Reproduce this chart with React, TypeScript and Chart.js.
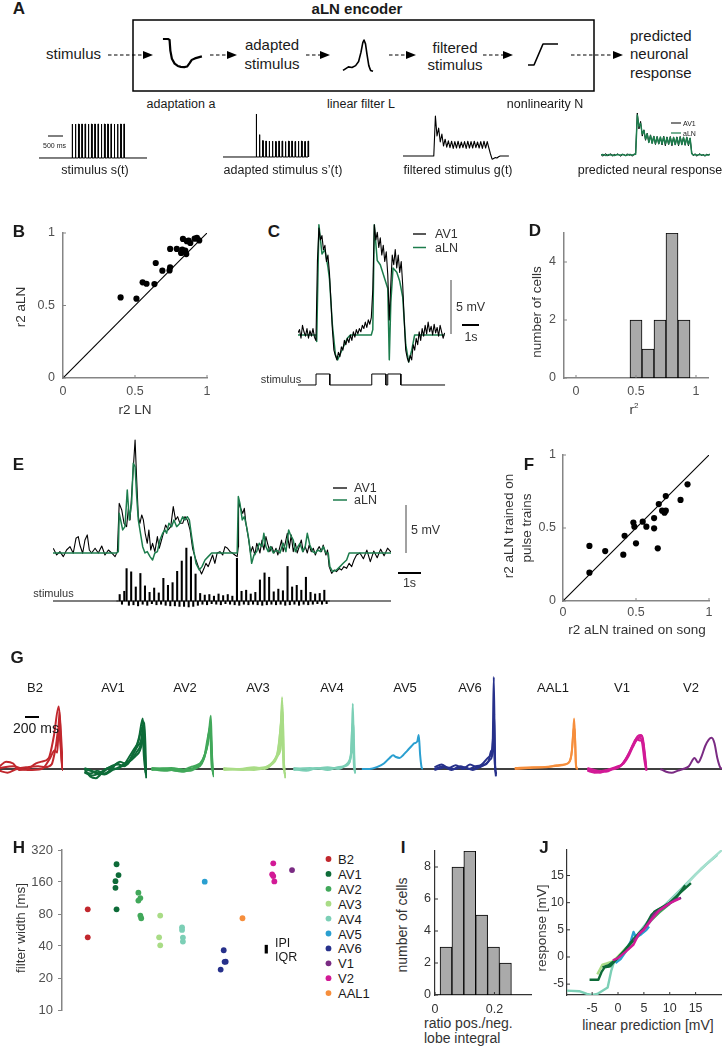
import React, { useEffect, useRef } from 'react';
import { Chart, registerables } from 'chart.js';

Chart.register(...registerables);
const FONT = '"Liberation Sans", Arial, Helvetica, sans-serif';
Chart.defaults.font.family = FONT;

// ===================== DATA =====================
// ---- Panel A (schematic traces) ----
const A_PULSE_ONSETS = [1100, 1208, 1316, 1424, 1532, 1640, 1748, 1856, 1964, 2072, 2180, 2288, 2396, 2504, 2612, 2720, 2828]; // ms
const A_PULSE_DUR = 20; // ms
const A_STIM_END = 3600; // ms
const A_ADAPTED_AMPS = [1.0, 0.52, 0.38, 0.37, 0.37, 0.37, 0.36, 0.37, 0.37, 0.36, 0.37, 0.37, 0.36, 0.37, 0.37, 0.36, 0.37];
const A_ADAPTED_END = 2850;
const A_FILTERED = [[0, 0], [1026, 0], [1080, 1.0], [1134, 0.5], [1188, 0.7], [1242, 0.35], [1296, 0.55], [1350, 0.25], [1404, 0.42], [1458, 0.22], [1512, 0.38], [1566, 0.21], [1620, 0.37], [1674, 0.19], [1728, 0.36], [1782, 0.2], [1836, 0.37], [1890, 0.2], [1944, 0.35], [1998, 0.21], [2052, 0.36], [2106, 0.19], [2160, 0.37], [2214, 0.2], [2268, 0.36], [2322, 0.2], [2376, 0.37], [2430, 0.21], [2484, 0.35], [2538, 0.2], [2592, 0.36], [2646, 0.19], [2700, 0.37], [2754, 0.2], [2808, 0.36], [2862, 0.2], [2916, 0.05], [2970, -0.08], [3024, -0.06], [3078, -0.04], [3132, -0.05], [3186, -0.02], [3240, 0], [3530, 0]];
const A_PRED_DT = 54; // ms per sample
const A_PRED_AV1 = [0.02, -0.03, 0.01, 0.03, -0.02, 0.0, 0.03, -0.03, 0.02, -0.01, 0.03, 0.0, -0.03, 0.02, 0.01, -0.02, 0.03, -0.01, 0.02, -0.03, 0.01,
  0.05, 1.0, 0.62, 0.8, 0.45, 0.6, 0.35, 0.52, 0.3, 0.48, 0.28, 0.45, 0.25, 0.44, 0.26, 0.42, 0.24, 0.45, 0.22, 0.43, 0.25, 0.44, 0.22, 0.42, 0.24, 0.43, 0.22, 0.44, 0.25, 0.42, 0.23, 0.42, 0.22, 0.4,
  0.05, -0.02, 0.03, -0.03, 0.01, 0.03, -0.02, 0.02, -0.03, 0.02, 0.0, 0.02];
const A_PRED_ALN = [0, 0.01, 0, -0.01, 0, 0.01, 0, 0, -0.01, 0, 0.01, 0, 0, 0.01, 0, -0.01, 0, 0.01, 0, 0, 0.01,
  0.02, 0.95, 0.68, 0.75, 0.5, 0.58, 0.38, 0.5, 0.3, 0.46, 0.28, 0.44, 0.27, 0.43, 0.27, 0.43, 0.26, 0.43, 0.26, 0.42, 0.26, 0.42, 0.25, 0.42, 0.25, 0.42, 0.25, 0.42, 0.25, 0.42, 0.25, 0.42, 0.25, 0.4,
  0.03, 0, 0.01, 0, 0, 0.01, 0, 0, -0.01, 0, 0, 0.01];
const A_ADAPT_CURVE = [[0, 1], [0.13, 1], [0.17, 0.97], [0.19, 0.6], [0.23, 0.32], [0.3, 0.15], [0.38, 0.07], [0.46, 0.04], [0.55, 0.03], [0.62, 0.05], [0.68, 0.16], [0.74, 0.28], [0.82, 0.33], [1, 0.4]];
const A_FILTER_CURVE = [[0, 0.05], [0.08, 0.1], [0.18, 0.16], [0.3, 0.14], [0.42, 0.2], [0.52, 0.33], [0.6, 0.62], [0.66, 0.92], [0.7, 1], [0.75, 0.88], [0.8, 0.55], [0.86, 0.2], [0.92, 0.05], [1, 0.02]];
const A_NONLIN_CURVE = [[0, 0], [0.2, 0], [0.5, 1], [1, 1]];

// ---- Panel B ----
const B_R2_LN = [0.40, 0.51, 0.553, 0.58, 0.635, 0.644, 0.69, 0.74, 0.744, 0.744, 0.79, 0.828, 0.82, 0.833, 0.849, 0.856, 0.86, 0.872, 0.884, 0.914, 0.93, 0.946];
const B_R2_ALN = [0.556, 0.547, 0.66, 0.65, 0.648, 0.793, 0.74, 0.742, 0.763, 0.89, 0.89, 0.885, 0.862, 0.959, 0.878, 0.855, 0.943, 0.947, 0.931, 0.961, 0.966, 0.949];
const UNIT_TICKS = [0, 0.5, 1];
const UNIT_TICK_LABELS = ['0', '0.5', '1'];
const UNITY_LINE = [[0, 0], [1, 1]];

// ---- Panel C ----
const C_DT = 0.088; // s per sample
const C_AV1 = [0.2, 0.5, -0.3, 0.9, 0.3, -0.1, 0.6, -0.3, 0.4, -0.1,
  0.6, -0.2, -0.5, 6.9, 9.9, 8.8, 9.2, 7.9, 8.3, 6.8,
  7.4, 5.8, 3.2, 0.5, -1.4, -1.9, -2.3, -1.6, -2.0, -1.1,
  -1.4, -0.5, -0.9, -0.3, -0.7, 0.0, -0.5, 0.3, -0.2, 0.5,
  0.1, 0.6, 0.3, 0.9, 0.6, 1.2, 0.7, 1.4, 1.0, 1.6,
  4.2, 10.2, 8.8, 9.5, 8.1, 9.0, 7.4, 8.3, 6.8, 7.7,
  5.6, 1.4, 4.6, 7.4, 6.5, 7.9, 6.2, 7.4, 5.8, 6.8,
  4.6, 1.4, -1.4, -2.1, -2.5, -1.9, -2.3, -0.9, -1.4, -0.3,
  -0.9, 0.3, -0.5, 0.6, -0.1, 0.9, 0.1, 1.2, 0.3, 0.8,
  0.0, 1.0, 0.2, 0.7, -0.1, 0.9, 0.3, -0.3, 0.2];
const C_ALN = [[0, 0], [1.06, 0], [1.10, -0.6], [1.23, 10.2], [1.41, 7.5], [1.58, 7.9], [1.76, 6.3], [1.85, 5.2], [2.02, 1.0], [2.2, -1.8], [2.33, -2.3], [2.64, -1.2], [2.9, -0.3], [3.08, 0], [4.31, 0], [4.4, 0.5], [4.49, 10.2], [4.66, 6.9], [4.84, 6.5], [5.1, 5.2], [5.28, 4.3], [5.37, -2.3], [5.46, 3.0], [5.59, 6.2], [5.81, 5.8], [5.98, 5.0], [6.16, 3.5], [6.34, -0.9], [6.51, -2.5], [6.69, -1.4], [6.86, 0], [8.62, 0]];
const C_STIM_ON = [1.06, 4.34, 5.28];
const C_STIM_OFF = [1.87, 5.17, 6.05];
const C_END = 8.65;

// ---- Panel D ----
const D_BIN_CENTERS = [0.5, 0.6, 0.7, 0.8, 0.9];
const D_COUNTS = [2, 1, 2, 5, 2];
const D_Y_TICKS = [0, 2, 4];
const D_Y_TICK_LABELS = ['0', '2', '4'];

// ---- Panel E ----
const E_AV1 = [[0.01, 0.49], [0.16, -0.21], [0.30, 0.14], [0.45, -0.38], [0.59, 0.31], [0.74, 0.66], [0.88, -0.03], [1.00, 1.53], [1.10, 1.70], [1.17, 0.83], [1.29, -0.03], [1.39, 1.35], [1.49, 1.88], [1.58, 0.31], [1.68, 0], [1.83, 0.49], [1.97, 0], [2.12, 0.73], [2.26, -0.21], [2.41, 0.31], [2.55, 0], [2.70, -0.38], [2.80, 0.14], [2.88, 5.17], [2.99, 4.48], [3.09, 3.09], [3.20, 2.74], [3.28, 4.65], [3.35, 3.44], [3.46, 7.60], [3.57, 11.77], [3.64, 7.60], [3.71, 3.78], [3.78, 3.09], [3.86, 3.96], [3.93, 3.44], [4.01, 2.05], [4.10, 1.01], [4.17, 2.40], [4.25, 0.31], [4.33, 1.01], [4.43, 0.14], [4.54, 1.70], [4.62, 0.49], [4.72, 1.35], [4.80, 2.05], [4.90, 2.92], [5.01, 2.40], [5.12, 2.74], [5.23, 4.83], [5.33, 3.44], [5.42, 3.78], [5.52, 3.09], [5.64, 3.09], [5.74, 3.78], [5.84, 3.44], [5.96, 2.40], [6.07, 0.49], [6.17, -0.38], [6.32, -1.42], [6.46, -2.19], [6.57, -1.60], [6.65, -1.08], [6.75, -1.42], [6.86, -0.73], [6.94, -0.21], [7.04, -1.08], [7.14, 0], [7.26, 0.14], [7.38, -0.21], [7.48, 0.66], [7.59, 0.49], [7.70, 0.14], [7.80, 0], [7.91, -0.21], [8.01, -0.38], [8.06, 0.66], [8.07, 5.52], [8.13, 4.83], [8.25, 4.13], [8.32, 4.65], [8.39, 3.09], [8.49, 1.70], [8.59, 0], [8.68, 0.66], [8.78, -0.21], [8.86, 1.01], [8.94, 0.49], [9.00, 0], [9.09, 1.35], [9.17, 0.31], [9.26, 1.70], [9.33, 1.01], [9.43, 0.14], [9.52, 0.66], [9.61, 0], [9.70, 0.49], [9.78, -0.21], [9.87, 0.66], [9.94, 1.35], [10.01, 0.14], [10.10, 1.01], [10.19, 2.05], [10.28, 0.49], [10.36, 1.88], [10.45, 0.14], [10.54, 1.01], [10.62, 0], [10.71, 0.66], [10.80, 1.35], [10.88, 0.14], [10.97, 0.66], [11.06, 0], [11.14, 0.83], [11.23, 0.14], [11.32, 0.49], [11.41, -0.21], [11.49, 0.31], [11.58, 0.66], [11.68, 0.14], [11.75, 0.83], [11.87, -0.21], [11.94, 0.31], [12.01, -1.42], [12.12, -2.12], [12.23, -1.77], [12.33, -1.94], [12.45, -1.60], [12.55, -1.77], [12.65, -1.42], [12.77, -1.60], [12.88, -1.08], [12.99, -1.42], [13.09, -0.73], [13.20, -0.21], [13.35, 0], [13.5, -0.6], [13.65, 0.3], [13.8, -0.9], [13.95, 0.2], [14.1, -0.5], [14.25, 0.4], [14.4, -0.3], [14.55, 0.5], [14.7, 0.1]];
const E_ALN = [[0, 0], [2.77, 0], [2.84, 0.14], [2.88, 4.13], [2.94, 3.44], [3.03, 2.40], [3.13, 2.74], [3.23, 6.56], [3.32, 3.44], [3.42, 5.17], [3.49, 9.34], [3.57, 8.99], [3.64, 5.87], [3.71, 3.44], [3.78, 2.40], [3.90, 0.66], [4.00, 0], [4.10, 0.14], [4.22, -0.38], [4.33, -0.73], [4.43, 0], [4.54, 0.14], [4.65, 1.35], [4.77, 2.05], [4.87, 2.40], [4.94, 2.05], [5.04, 3.09], [5.16, 2.74], [5.26, 3.44], [5.38, 2.74], [5.52, 3.09], [5.64, 3.78], [5.74, 3.44], [5.84, 3.78], [5.93, 3.44], [6.03, 1.70], [6.13, 0.14], [6.22, -1.08], [6.36, -1.77], [6.48, -1.42], [6.61, -0.73], [6.75, -0.38], [6.90, 0], [8.01, 0], [8.06, 5.87], [8.13, 5.17], [8.23, 3.44], [8.32, 3.78], [8.42, 2.74], [8.52, 1.35], [8.64, -1.08], [8.74, -0.21], [8.86, 0.14], [8.97, 1.01], [9.09, 0.66], [9.17, 2.05], [9.26, 0.66], [9.36, 0.14], [9.46, 0.66], [9.58, 0], [9.72, 0.31], [9.87, 0], [10.01, 1.01], [10.13, 0.14], [10.25, 2.40], [10.33, 1.88], [10.45, 1.35], [10.54, 0.14], [10.65, 0.66], [10.74, 1.01], [10.86, 0.14], [10.97, 0.66], [11.06, 2.05], [11.17, 0.83], [11.29, 0.14], [11.41, 0], [11.52, 0.31], [11.64, 0.14], [11.75, 0.66], [11.87, 0], [11.97, 0], [12.04, -1.42], [12.16, -1.94], [12.33, -1.77], [12.48, -1.42], [12.62, -1.08], [12.77, -0.73], [12.88, 0], [14.7, 0]];
const E_STIM_T0 = 2.8; // s
const E_STIM_DT = 0.1; // s
const E_STIM = [0, 1.2, -0.6, 1.8, 6.0, -0.8, 5.4, -0.7, 2.6, -0.9,
  5.1, -0.6, 2.8, -0.8, 1.6, -0.5, 2.4, -0.7, 1.5, -0.6,
  4.2, -0.8, 2.9, -0.9, 3.4, -0.9, 5.5, -1.0, 7.4, -1.0,
  9.8, -1.1, 8.2, -1.0, 5.0, -0.8, 1.4, -0.6, 1.1, -0.7,
  1.2, -0.5, 0.9, -0.6, 1.3, -0.7, 1.0, -0.5, 1.2, -0.6,
  0.9, -0.7, 7.9, -0.8, 1.8, -0.6, 2.0, -0.7, 1.3, -0.6,
  1.6, -0.7, 3.9, -0.8, 5.2, -0.7, 4.4, -0.6, 1.7, -0.7,
  2.2, -0.6, 1.9, -0.8, 6.4, -0.7, 2.6, -0.6, 2.9, -0.8,
  2.0, -0.6, 4.4, -0.7, 1.6, -0.6, 1.3, -0.5, 1.4, -0.6,
  2.0, -0.5, 0];
const E_END = 14.7;

// ---- Panel F ----
const F_R2_SONG = [0.181, 0.181, 0.289, 0.413, 0.422, 0.482, 0.489, 0.5, 0.546, 0.571, 0.624, 0.624, 0.649, 0.656, 0.679, 0.695, 0.704, 0.704, 0.805, 0.853];
const F_R2_PULSE = [0.194, 0.377, 0.342, 0.317, 0.447, 0.537, 0.509, 0.395, 0.543, 0.509, 0.568, 0.498, 0.361, 0.664, 0.619, 0.605, 0.719, 0.619, 0.692, 0.799];

// ---- Panel G (filters: [time before spike ms, normalized amplitude]) ----
const G_TYPES = ['B2', 'AV1', 'AV2', 'AV3', 'AV4', 'AV5', 'AV6', 'AAL1', 'V1', 'V2'];
const G_COLORS = ['#c1272d', '#0d6b38', '#41a85a', '#a9dc86', '#7ccfb6', '#2a9fd0', '#27318b', '#f68e3c', '#d21a96', '#7a2b83'];
const G_B2 = [
  [[-890, 0.03], [-800, 0.08], [-700, 0.06], [-620, -0.01], [-500, 0.0], [-380, 0.06], [-300, 0.08], [-200, 0.12], [-130, 0.35], [-60, 0.68], [-30, 0.4], [0, -0.02]],
  [[-890, -0.02], [-780, -0.04], [-650, 0.0], [-500, 0.02], [-350, 0.03], [-250, 0.02], [-160, 0.05], [-100, 0.25], [-60, 0.45], [-40, 0.3], [-10, 0.0]],
  [[-890, 0.01], [-700, 0.03], [-500, -0.01], [-300, 0.0], [-180, 0.12], [-120, 0.2], [-80, 0.18], [-50, 0.62], [-20, 0.1], [0, 0.0]],
];
const G_AV1 = [
  [[-880, 0.0], [-800, -0.08], [-720, -0.1], [-640, -0.05], [-560, 0.0], [-480, 0.04], [-400, 0.05], [-320, 0.03], [-240, 0.1], [-170, 0.2], [-110, 0.35], [-60, 0.55], [-30, 0.2], [-10, -0.08], [0, 0.0]],
  [[-880, -0.03], [-800, -0.05], [-700, -0.02], [-600, -0.05], [-500, 0.0], [-420, 0.06], [-350, 0.03], [-260, 0.12], [-180, 0.22], [-120, 0.3], [-70, 0.45], [-40, 0.1], [-15, -0.06]],
  [[-880, 0.01], [-780, -0.02], [-680, -0.06], [-580, 0.0], [-480, 0.03], [-380, 0.08], [-280, 0.05], [-200, 0.16], [-130, 0.25], [-80, 0.32], [-45, 0.52], [-25, 0.0]],
  [[-880, -0.04], [-760, -0.07], [-640, -0.03], [-520, 0.02], [-420, 0.0], [-320, 0.06], [-220, 0.1], [-150, 0.18], [-90, 0.26], [-55, 0.4], [-20, -0.04]],
  [[-880, 0.0], [-740, -0.03], [-600, -0.06], [-480, -0.01], [-360, 0.03], [-250, 0.08], [-160, 0.14], [-100, 0.2], [-60, 0.32], [-35, 0.5], [-10, -0.1]],
];
const G_AV2 = [
  [[-880, 0.0], [-700, -0.02], [-500, 0.0], [-350, -0.02], [-250, 0.01], [-170, 0.06], [-110, 0.2], [-70, 0.4], [-45, 0.58], [-30, 0.2], [-10, -0.08], [0, -0.05]],
  [[-880, 0.01], [-650, 0.0], [-450, -0.03], [-300, 0.0], [-200, 0.04], [-130, 0.15], [-80, 0.3], [-50, 0.5], [-30, 0.1], [-12, -0.06]],
  [[-880, -0.01], [-600, 0.01], [-400, -0.01], [-260, 0.02], [-160, 0.1], [-100, 0.24], [-60, 0.42], [-40, 0.3], [-20, 0.0]],
  [[-880, 0.0], [-700, 0.0], [-500, -0.02], [-330, 0.02], [-220, 0.05], [-140, 0.12], [-90, 0.33], [-55, 0.45], [-35, 0.05], [-15, -0.03]],
];
const G_AV3 = [
  [[-880, 0.0], [-650, 0.0], [-450, 0.02], [-300, 0.0], [-200, 0.05], [-130, 0.12], [-80, 0.3], [-55, 0.78], [-40, 0.3], [-25, -0.05], [0, -0.05]],
  [[-880, 0.0], [-600, -0.01], [-400, 0.01], [-250, 0.03], [-160, 0.1], [-110, 0.2], [-70, 0.5], [-45, 0.62], [-30, 0.1], [-10, -0.1]],
  [[-880, 0.01], [-700, 0.0], [-450, -0.01], [-280, 0.02], [-180, 0.08], [-120, 0.15], [-75, 0.22], [-55, 0.5], [-35, 0.0]],
  [[-880, -0.01], [-500, 0.0], [-300, 0.01], [-190, 0.06], [-120, 0.18], [-80, 0.42], [-50, 0.7], [-35, 0.15], [-20, -0.02]],
];
const G_AV4 = [
  [[-880, 0.0], [-700, -0.02], [-550, 0.01], [-400, -0.01], [-260, 0.02], [-160, 0.03], [-100, 0.06], [-60, 0.3], [-45, 0.71], [-30, 0.2], [-15, -0.02], [0, -0.03]],
  [[-880, -0.01], [-650, 0.01], [-450, 0.0], [-300, 0.01], [-200, 0.02], [-120, 0.05], [-75, 0.12], [-50, 0.5], [-35, 0.45], [-20, 0.0]],
  [[-880, 0.01], [-600, 0.0], [-400, 0.02], [-250, 0.0], [-150, 0.04], [-90, 0.1], [-60, 0.2], [-45, 0.35], [-30, 0.05], [-10, -0.05]],
];
const G_AV5 = [
  [[-860, 0.0], [-750, 0.0], [-650, 0.02], [-550, 0.06], [-470, 0.12], [-420, 0.15], [-380, 0.13], [-330, 0.12], [-280, 0.15], [-220, 0.2], [-160, 0.25], [-120, 0.28], [-80, 0.3], [-60, 0.37], [-40, 0.15], [-20, 0.02], [0, 0.0]],
];
const G_AV6 = [
  [[-880, 0.02], [-780, 0.05], [-680, 0.01], [-580, 0.04], [-480, 0.0], [-380, 0.05], [-280, 0.02], [-200, 0.06], [-130, 0.12], [-90, 0.15], [-60, 0.3], [-45, 1.0], [-30, 0.1], [-15, -0.08]],
  [[-880, 0.0], [-760, 0.03], [-640, -0.01], [-520, 0.03], [-400, 0.0], [-300, 0.03], [-200, 0.04], [-120, 0.08], [-80, 0.2], [-55, 0.22], [-40, 0.6], [-25, 0.0]],
  [[-880, -0.01], [-720, 0.02], [-600, 0.0], [-460, 0.02], [-340, -0.01], [-240, 0.02], [-150, 0.06], [-100, 0.1], [-70, 0.14], [-50, 0.4], [-30, 0.05], [-10, -0.06]],
];
const G_AAL1 = [
  [[-890, 0.0], [-700, 0.01], [-500, 0.02], [-350, 0.03], [-230, 0.04], [-150, 0.06], [-100, 0.12], [-70, 0.35], [-55, 0.55], [-40, 0.3], [-25, 0.02], [0, 0.0]],
  [[-890, 0.01], [-650, 0.02], [-450, 0.02], [-300, 0.04], [-180, 0.05], [-120, 0.08], [-85, 0.2], [-60, 0.45], [-45, 0.4], [-30, 0.05], [-10, 0.0]],
];
const G_V1 = [
  [[-880, 0.0], [-800, -0.03], [-700, -0.04], [-600, -0.01], [-500, 0.0], [-420, 0.03], [-350, 0.1], [-280, 0.2], [-220, 0.3], [-170, 0.36], [-130, 0.37], [-100, 0.33], [-70, 0.15], [-50, 0.0]],
  [[-880, -0.02], [-780, -0.04], [-660, -0.02], [-540, 0.0], [-440, 0.02], [-360, 0.08], [-300, 0.16], [-240, 0.26], [-190, 0.33], [-140, 0.34], [-110, 0.28], [-80, 0.1], [-55, -0.01]],
  [[-880, 0.01], [-740, -0.02], [-620, -0.03], [-500, 0.01], [-400, 0.04], [-330, 0.12], [-260, 0.22], [-200, 0.3], [-150, 0.35], [-115, 0.36], [-90, 0.25], [-60, 0.05]],
  [[-880, -0.01], [-700, -0.03], [-560, 0.0], [-450, 0.03], [-370, 0.06], [-300, 0.14], [-240, 0.24], [-180, 0.32], [-140, 0.31], [-100, 0.3], [-75, 0.12], [-50, -0.02]],
];
const G_V2 = [
  [[-880, 0.0], [-800, -0.03], [-720, -0.04], [-640, -0.02], [-560, 0.0], [-480, 0.03], [-400, 0.12], [-350, 0.07], [-300, 0.14], [-250, 0.25], [-200, 0.32], [-160, 0.34], [-120, 0.28], [-80, 0.12], [-40, 0.02], [0, 0.0]],
];
const G_FILTERS = [G_B2, G_AV1, G_AV2, G_AV3, G_AV4, G_AV5, G_AV6, G_AAL1, G_V1, G_V2];

// ---- Panel H ([group position, filter width ms]) ----
const H_B2 = [[0, 88.6], [0, 48.3]];
const H_AV1 = [[1.32, 235], [1.41, 186], [1.27, 163], [1.27, 141], [1.32, 88.6]];
const H_AV2 = [[2.32, 127], [2.41, 113], [2.32, 107], [2.41, 77.4], [2.45, 73]];
const H_AV3 = [[3.32, 77.4], [3.27, 48.3], [3.32, 40.6]];
const H_AV4 = [[4.32, 60], [4.32, 56.6], [4.36, 48], [4.36, 44]];
const H_AV5 = [[5.36, 161]];
const H_AV6 = [[6.23, 36.5], [6.32, 28.5], [6.27, 28.4], [6.09, 24]];
const H_V1 = [[9.36, 207]];
const H_V2 = [[8.5, 240], [8.45, 189], [8.5, 182], [8.55, 162]];
const H_AAL1 = [[7.09, 73]];
const H_LEGEND = ['B2', 'AV1', 'AV2', 'AV3', 'AV4', 'AV5', 'AV6', 'V1', 'V2', 'AAL1'];
const H_LEGEND_COLORS = ['#c1272d', '#0d6b38', '#41a85a', '#a9dc86', '#7ccfb6', '#2a9fd0', '#27318b', '#7a2b83', '#d21a96', '#f68e3c'];
const H_GROUPS = [H_B2, H_AV1, H_AV2, H_AV3, H_AV4, H_AV5, H_AV6, H_V1, H_V2, H_AAL1];
const H_IPI_IQR = [34, 41];
const H_IPI_POS = 8.18;
const H_Y_TICKS = [10, 20, 40, 80, 160, 320];
const H_Y_TICK_LABELS = ['10', '20', '40', '80', '160', '320'];

// ---- Panel I ----
const I_BIN_CENTERS = [0.037, 0.077, 0.117, 0.157, 0.197, 0.237];
const I_COUNTS = [3, 8, 9, 5, 3, 2];
const I_X_TICKS = [0, 0.2];
const I_X_TICK_LABELS = ['0', '0.2'];
const I_Y_TICKS = [0, 2, 4, 6, 8];
const I_Y_TICK_LABELS = ['0', '2', '4', '6', '8'];

// ---- Panel J ([linear prediction mV, response mV]) ----
const J_AV4_A = [[-9.9, -6.2], [-7.5, -6.3], [-6, -6.8], [-5, -7.0], [-4, -6.8], [-3, -6.2], [-2, -5.6], [-1.3, -2.5], [-0.8, -1.0], [0, 0], [3, 3.2], [6, 6.8], [9, 9.5], [12, 12.3], [15, 15.2], [17, 17], [19.2, 18.8]];
const J_AV4_B = [[4, 4.2], [8, 8.3], [12, 12.1], [16, 16.2], [20.1, 19.7]];
const J_AV1_A = [[-5.5, -4.2], [-3.8, -4.2], [-3.2, -2.8], [-2.6, -1.9], [-1.5, -1.7], [-0.5, -0.6], [1, 0.8], [3, 3.3], [5, 5.2], [6.5, 7.8], [7.5, 8.6], [10, 10], [12, 11.8], [14.1, 13.6]];
const J_AV1_B = [[-3, -1.9], [-1.8, -1.5], [0, -0.2], [2, 2.0], [4, 4.3], [6, 6.3], [7, 8.3], [9, 9.3], [11, 10.6], [13, 13.2]];
const J_V2 = [[-1, -0.6], [0, -0.2], [1.5, 1.0], [3, 2.3], [4, 4.2], [5, 5.0], [6.5, 6.9], [8, 8.6], [10, 9.9], [12, 10.8]];
const J_V1 = [[3, 3], [5, 5.2], [6, 6.4], [7, 8], [9, 9.2], [11, 10.5], [12.2, 10.9]];
const J_AV5 = [[-0.5, -1.1], [0.5, -0.4], [1.5, 1], [2.5, 3], [3, 4.6], [3.5, 3.6], [4.5, 4.2], [5.5, 5.0], [6, 5.6]];
const J_AV3 = [[-4, -3.2], [-3, -1.4], [-2.2, -1.2], [-1, -0.8], [0, 0.1], [1.5, 1.6], [3, 3.0], [4.5, 4.4]];
const J_AV2 = [[-2, -1.8], [0, -0.2], [2, 2], [4, 4], [6, 6.4], [8, 8.2], [10, 9.8]];
const J_TICKS = [-5, 0, 5, 10, 15];
const J_TICK_LABELS = ['-5', '0', '5', '10', '15'];

// ===================== STYLE CONSTANTS =====================
const GREEN = '#1d7d4d';
const AX_GRAY = '#858585';
const TICK_GRAY = '#505050';
const AX_DARK = '#333333';

// ===================== HELPERS =====================
const inTicksPlugin = {
  id: 'inTicks',
  afterDraw(chart: any, _a: any, opts: any) {
    if (!opts || !opts.len) return;
    const ctx = chart.ctx;
    const a = chart.chartArea;
    ctx.save();
    ctx.strokeStyle = opts.color || '#777';
    ctx.lineWidth = 1;
    Object.values(chart.scales).forEach((s: any) => {
      if (s.options.display === false) return;
      s.ticks.forEach((t: any) => {
        const p = s.getPixelForValue(t.value);
        ctx.beginPath();
        if (s.isHorizontal()) { ctx.moveTo(p, a.bottom); ctx.lineTo(p, a.bottom - opts.len); }
        else { ctx.moveTo(a.left, p); ctx.lineTo(a.left + opts.len, p); }
        ctx.stroke();
      });
    });
    ctx.restore();
  },
};
Chart.register(inTicksPlugin);

const pairs = (arr: number[][]) => arr.map(([x, y]) => ({ x, y }));
const sampled = (vals: number[], t0: number, dt: number) => vals.map((y, i) => ({ x: t0 + i * dt, y }));
const zip = (xs: number[], ys: number[]) => xs.map((x, i) => ({ x, y: ys[i] }));
function pulseTrain(on: number[], off: number[], amps: number[] | null, end: number) {
  const pts: any[] = [{ x: 0, y: 0 }];
  on.forEach((t, i) => {
    const a = amps ? amps[i] : 1;
    pts.push({ x: t, y: 0 }, { x: t, y: a }, { x: off[i], y: a }, { x: off[i], y: 0 });
  });
  pts.push({ x: end, y: 0 });
  return pts;
}

function base(padding: any, tickLen = 0, tickColor = AX_GRAY) {
  return {
    responsive: false, maintainAspectRatio: false, animation: false, devicePixelRatio: 1, events: [],
    layout: { padding },
    plugins: { legend: { display: false }, tooltip: { enabled: false }, inTicks: { len: tickLen, color: tickColor } },
  };
}
const hid = (r: number[], extra: any = {}) => ({ type: 'linear', display: false, offset: false, min: r[0], max: r[1], ...extra });

function ln(data: any[], color: string, width: number, extra: any = {}) {
  return { type: 'line', data, borderColor: color, borderWidth: width, pointRadius: 0, fill: false, tension: 0, borderJoinStyle: 'round', ...extra };
}

function visAxis(o: any) {
  const { pos, min, max, ticks, labels, size, pad, font = 12.5, color = AX_GRAY, labelColor = TICK_GRAY, type = 'linear', bw = 1.5, outTick = 0 } = o;
  return {
    type, position: pos === 'x' ? 'bottom' : 'left', min, max, offset: false,
    grid: outTick ? { display: true, drawOnChartArea: false, drawTicks: true, tickLength: outTick, color, lineWidth: 1 } : { display: false, drawTicks: false },
    border: { display: true, color, width: bw },
    ticks: { padding: pad, color: labelColor, font: { size: font, family: FONT }, autoSkip: false, maxRotation: 0, minRotation: 0, callback: (_v: any, i: number) => labels[i] },
    afterBuildTicks: (s: any) => { s.ticks = ticks.map((value: number) => ({ value })); },
    afterFit: (s: any) => {
      if (pos === 'x') s.height = size; else s.width = size;
      s.paddingLeft = 0; s.paddingRight = 0; s.paddingTop = 0; s.paddingBottom = 0;
    },
  };
}

// ===================== CHART CONFIGS =====================
const mkIcon = (curve: number[][], xr: number[], yr: number[], w: number) => () => ({
  type: 'line',
  data: { datasets: [ln(pairs(curve), '#000', w)] },
  options: { ...base(0), scales: { x: hid(xr), y: hid(yr) } },
});

const mkStimS = () => ({
  type: 'line',
  data: { datasets: [ln(pulseTrain(A_PULSE_ONSETS, A_PULSE_ONSETS.map(t => t + A_PULSE_DUR), null, A_STIM_END), '#000', 1)] },
  options: { ...base(0), scales: { x: hid([0, 3600]), y: hid([-0.059, 1.265]) } },
});
const mkAdapted = () => ({
  type: 'line',
  data: { datasets: [ln(pulseTrain(A_PULSE_ONSETS, A_PULSE_ONSETS.map(t => t + A_PULSE_DUR), A_ADAPTED_AMPS, A_ADAPTED_END), '#000', 1)] },
  options: { ...base(0), scales: { x: hid([0, 2930]), y: hid([-0.07, 1.093]) } },
});
const mkFiltered = () => ({
  type: 'line',
  data: { datasets: [ln(pairs(A_FILTERED), '#000', 1.1)] },
  options: { ...base(0), scales: { x: hid([0, 3600]), y: hid([-0.15, 1.15]) } },
});
const mkPred = () => ({
  type: 'line',
  data: { datasets: [ln(sampled(A_PRED_ALN, 0, A_PRED_DT), GREEN, 1.5), ln(sampled(A_PRED_AV1, 0, A_PRED_DT), '#000', 1)] },
  options: { ...base(0), scales: { x: hid([0, 3600]), y: hid([-0.119, 1.119]) } },
});

const mkB = () => ({
  type: 'scatter',
  data: {
    datasets: [
      { data: zip(B_R2_LN, B_R2_ALN), pointRadius: 3.1, pointBackgroundColor: '#000', pointBorderWidth: 0, showLine: false },
      { data: pairs(UNITY_LINE), showLine: true, borderColor: '#000', borderWidth: 1.1, pointRadius: 0 },
    ],
  },
  options: {
    ...base({ left: 0, top: 8, right: 8, bottom: 12 }, 3, AX_GRAY),
    scales: {
      x: visAxis({ pos: 'x', min: 0, max: 1, ticks: UNIT_TICKS, labels: UNIT_TICK_LABELS, size: 30, pad: 6 }),
      y: visAxis({ pos: 'y', min: 0, max: 1, ticks: UNIT_TICKS, labels: UNIT_TICK_LABELS, size: 63, pad: 8 }),
    },
  },
});

const mkC = () => ({
  type: 'line',
  data: {
    datasets: [
      ln(sampled(C_AV1, 0, C_DT), '#000', 1.1),
      ln(pairs(C_ALN), GREEN, 1.5),
      ln(pulseTrain(C_STIM_ON, C_STIM_OFF, null, C_END), '#000', 1, { yAxisID: 'ys' }),
    ],
  },
  options: { ...base(0), scales: { x: hid([0, 8.706]), y: hid([-5.09, 10.83]), ys: hid([-0.4545, 15.18]) } },
});

const mkD = () => ({
  type: 'bar',
  data: { datasets: [{ data: zip(D_BIN_CENTERS, D_COUNTS), backgroundColor: '#aaaaaa', borderColor: '#000', borderWidth: 1, borderSkipped: false, barPercentage: 1, categoryPercentage: 1 }] },
  options: {
    ...base({ left: 0, top: 8, right: 8, bottom: 7 }, 3, AX_GRAY),
    scales: {
      x: visAxis({ pos: 'x', min: -0.1, max: 1.1, ticks: UNIT_TICKS, labels: UNIT_TICK_LABELS, size: 20, pad: 6 }),
      y: visAxis({ pos: 'y', min: 0, max: 5, ticks: D_Y_TICKS, labels: D_Y_TICK_LABELS, size: 24, pad: 8 }),
    },
  },
});

const mkE = () => ({
  type: 'line',
  data: {
    datasets: [
      ln(pairs(E_ALN), GREEN, 1.5),
      ln(pairs(E_AV1), '#000', 1.1),
      { type: 'bar', data: sampled(E_STIM, E_STIM_T0, E_STIM_DT), yAxisID: 'ys', backgroundColor: '#000', borderWidth: 0, barThickness: 1.4 },
      ln([{ x: 0, y: 0 }, { x: E_END, y: 0 }], '#000', 1.2, { yAxisID: 'ys' }),
    ],
  },
  options: { ...base(0), scales: { x: hid([0, 14.7]), y: hid([-5.94, 12.81]), ys: hid([-1.667, 31.67]) } },
});

const mkF = () => ({
  type: 'scatter',
  data: {
    datasets: [
      { data: zip(F_R2_SONG, F_R2_PULSE), pointRadius: 3.1, pointBackgroundColor: '#000', pointBorderWidth: 0, showLine: false },
      { data: pairs(UNITY_LINE), showLine: true, borderColor: '#000', borderWidth: 1.1, pointRadius: 0 },
    ],
  },
  options: {
    ...base({ left: 0, top: 8, right: 8, bottom: 6 }, 3, AX_GRAY),
    scales: {
      x: visAxis({ pos: 'x', min: 0, max: 1, ticks: UNIT_TICKS, labels: UNIT_TICK_LABELS, size: 20, pad: 4 }),
      y: visAxis({ pos: 'y', min: 0, max: 1, ticks: UNIT_TICKS, labels: UNIT_TICK_LABELS, size: 43, pad: 7 }),
    },
  },
});

const mkG = (idx: number) => () => ({
  type: 'line',
  data: { datasets: G_FILTERS[idx].map(tr => ln(pairs(tr), G_COLORS[idx], 2, { cubicInterpolationMode: 'monotone' })) },
  options: { ...base(0), scales: { x: hid([-900, 0]), y: hid([-0.174, 1.239]) } },
});

const mkH = () => ({
  type: 'scatter',
  data: {
    datasets: [
      ...H_GROUPS.map((g, i) => ({ data: pairs(g), pointRadius: 2.9, pointBackgroundColor: H_LEGEND_COLORS[i], pointBorderWidth: 0, showLine: false })),
      { data: H_IPI_IQR.map(v => ({ x: H_IPI_POS, y: v })), showLine: true, borderColor: '#000', borderWidth: 3.2, pointRadius: 0, borderCapStyle: 'butt' },
    ],
  },
  options: {
    ...base({ left: 0, top: 10, right: 2, bottom: 10 }),
    scales: {
      x: hid([-1.18, 10.55]),
      y: visAxis({ pos: 'y', type: 'logarithmic', min: 10, max: 320, ticks: H_Y_TICKS, labels: H_Y_TICK_LABELS, size: 62, pad: 5, font: 13, outTick: 4 }),
    },
  },
});

const mkI = () => ({
  type: 'bar',
  data: { datasets: [{ data: zip(I_BIN_CENTERS, I_COUNTS), backgroundColor: '#aaaaaa', borderColor: '#000', borderWidth: 1, borderSkipped: false, barPercentage: 1, categoryPercentage: 1 }] },
  options: {
    ...base({ left: 0, top: 8, right: 5, bottom: 0 }, 3, AX_DARK),
    scales: {
      x: visAxis({ pos: 'x', min: 0, max: 0.323, ticks: I_X_TICKS, labels: I_X_TICK_LABELS, size: 20, pad: 7, font: 12.5, color: AX_DARK, labelColor: '#333', bw: 1.2 }),
      y: visAxis({ pos: 'y', min: 0, max: 9, ticks: I_Y_TICKS, labels: I_Y_TICK_LABELS, size: 25, pad: 4, font: 12.5, color: AX_DARK, labelColor: '#333', bw: 1.2 }),
    },
  },
});

const mkJ = () => ({
  type: 'line',
  data: {
    datasets: [
      ln(pairs(J_V2), '#d21a96', 2.4),
      ln(pairs(J_V1), '#7a2b83', 2.4),
      ln(pairs(J_AV1_A), '#0d6b38', 2.4),
      ln(pairs(J_AV1_B), '#0d6b38', 2.4),
      ln(pairs(J_AV5), '#2a9fd0', 2.4),
      ln(pairs(J_AV2), '#41a85a', 2.4),
      ln(pairs(J_AV3), '#a9dc86', 2.4),
      ln(pairs(J_AV4_B), '#a6e0cf', 2.4),
      ln(pairs(J_AV4_A), '#7ccfb6', 2.4),
    ],
  },
  options: {
    ...base({ left: 0, top: 8, right: 0, bottom: 0 }, 3, AX_DARK),
    scales: {
      x: visAxis({ pos: 'x', min: -9.86, max: 20.1, ticks: J_TICKS, labels: J_TICK_LABELS, size: 22, pad: 6, font: 12.5, color: AX_DARK, labelColor: '#333', bw: 1.2 }),
      y: visAxis({ pos: 'y', min: -7.0, max: 19.7, ticks: J_TICKS, labels: J_TICK_LABELS, size: 27, pad: 3, font: 12, color: AX_DARK, labelColor: '#333', bw: 1.2 }),
    },
  },
});

// layout (positions only)
const G_LEFT = [-1, 83, 150, 222, 292, 359, 433, 514, 586, 659];
const G_LABEL_X = [35, 113, 185, 258, 332, 405, 470, 553, 622, 691];

const CHARTS: any[] = [
  { id: 'iconA', x: 161, y: 36, w: 44, h: 36, make: mkIcon(A_ADAPT_CURVE, [-0.05, 1.08], [-0.138, 1.103], 2.2) },
  { id: 'iconL', x: 341, y: 37, w: 35, h: 38, make: mkIcon(A_FILTER_CURVE, [-0.067, 1.1], [-0.094, 1.094], 1.6) },
  { id: 'iconN', x: 526, y: 41, w: 34, h: 27, make: mkIcon(A_NONLIN_CURVE, [-0.067, 1.067], [-0.143, 1.143], 1.6) },
  { id: 'stimS', x: 39, y: 115, w: 108, h: 45, make: mkStimS },
  { id: 'adapt', x: 223, y: 110, w: 88, h: 50, make: mkAdapted },
  { id: 'filt', x: 403, y: 110, w: 108, h: 52, make: mkFiltered },
  { id: 'pred', x: 601, y: 108, w: 110, h: 52, make: mkPred },
  { id: 'B', x: 0, y: 225, w: 215, h: 195, make: mkB },
  { id: 'C', x: 298, y: 218, w: 148, h: 172, make: mkC },
  { id: 'D', x: 540, y: 225, w: 176, h: 180, make: mkD },
  { id: 'E', x: 53, y: 430, w: 338, h: 180, make: mkE },
  { id: 'F', x: 520, y: 447, w: 197, h: 180, make: mkF },
  ...G_TYPES.map((t, i) => ({ id: 'G' + t, x: G_LEFT[i], y: 655, w: 64, h: 130, make: mkG(i) })),
  { id: 'H', x: 0, y: 840, w: 322, h: 180, make: mkH },
  { id: 'I', x: 410, y: 843, w: 126, h: 172, make: mkI },
  { id: 'J', x: 540, y: 842, w: 182, h: 175, make: mkJ },
];

// ===================== COMPONENTS =====================
function ChartCanvas({ x, y, w, h, make }: any) {
  const ref = useRef<HTMLCanvasElement | null>(null);
  useEffect(() => {
    if (!ref.current) return;
    const chart = new Chart(ref.current, make());
    return () => chart.destroy();
  }, [make]);
  return <canvas ref={ref} width={w} height={h} style={{ position: 'absolute', left: x, top: y, width: w, height: h }} />;
}

function Txt({ x, y, s = 12.5, b = false, a = 'c', rot = false, c = '#1a1a1a', children }: any) {
  const tx = a === 'c' ? '-50%' : a === 'l' ? '0' : '-100%';
  return (
    <div style={{ position: 'absolute', left: x, top: y, fontSize: s, fontWeight: b ? 700 : 400, color: c, whiteSpace: 'nowrap', lineHeight: 1, transform: `translate(${tx},-50%)${rot ? ' rotate(-90deg)' : ''}` }}>
      {children}
    </div>
  );
}

function Arrow({ x1, x2, y }: any) {
  return (
    <g>
      <line x1={x1} y1={y} x2={x2 - 8} y2={y} stroke="#000" strokeWidth={1.2} strokeDasharray="3.5 2.5" />
      <polygon points={`${x2},${y} ${x2 - 10},${y - 4} ${x2 - 10},${y + 4}`} fill="#000" />
    </g>
  );
}

const ARROWS = [[108, 153, 55], [210, 237, 55], [306, 330, 55], [389, 416, 55], [483, 513, 55], [571, 623, 55]];
const TITLE = '#333';

export default function App() {
  return (
    <div style={{ position: 'absolute', left: 0, top: 0, width: 722, height: 1049, background: '#fff', overflow: 'hidden', fontFamily: FONT, color: '#1a1a1a' }}>
      <svg width={722} height={1049} style={{ position: 'absolute', left: 0, top: 0 }}>
        <rect x={133} y={20} width={461} height={71} fill="none" stroke="#000" strokeWidth={1.5} />
        {ARROWS.map(([a, b, y], i) => <Arrow key={i} x1={a} x2={b} y={y} />)}
        <line x1={48} y1={136} x2={63} y2={136} stroke="#000" strokeWidth={1} />
        <line x1={671} y1={123} x2={681} y2={123} stroke="#000" strokeWidth={1} />
        <line x1={671} y1={133} x2={681} y2={133} stroke={GREEN} strokeWidth={1.2} />
        {/* C legend + scale */}
        <line x1={413} y1={234} x2={426} y2={234} stroke="#222" strokeWidth={1.5} />
        <line x1={413} y1={247.5} x2={426} y2={247.5} stroke={GREEN} strokeWidth={1.5} />
        <line x1={451} y1={280} x2={451} y2={334} stroke="#444" strokeWidth={1} />
        <line x1={462} y1={325} x2={479} y2={325} stroke="#000" strokeWidth={2} />
        {/* E legend + scale */}
        <line x1={333} y1={488} x2={347} y2={488} stroke="#222" strokeWidth={1.5} />
        <line x1={333} y1={500} x2={347} y2={500} stroke={GREEN} strokeWidth={1.5} />
        <line x1={406} y1={505} x2={406} y2={553} stroke="#444" strokeWidth={1} />
        <line x1={398} y1={573} x2={421} y2={573} stroke="#000" strokeWidth={2} />
        {/* G baseline + scale */}
        <line x1={0} y1={769} x2={722} y2={769} stroke="#000" strokeWidth={1.5} />
        <line x1={25} y1={717} x2={39} y2={717} stroke="#000" strokeWidth={2} />
        {/* H legend markers */}
        {H_LEGEND.map((_, i) => <circle key={i} cx={328.5} cy={859 + 14.9 * i} r={2.9} fill={H_LEGEND_COLORS[i]} />)}
      </svg>

      {CHARTS.map(c => <ChartCanvas key={c.id} {...c} />)}

      {/* Panel A */}
      <Txt x={19} y={8} s={17} b>A</Txt>
      <Txt x={357} y={8} s={15} b>aLN encoder</Txt>
      <Txt x={73.5} y={53} s={15}>stimulus</Txt>
      <Txt x={272} y={44} s={15}>adapted</Txt>
      <Txt x={272} y={63} s={15}>stimulus</Txt>
      <Txt x={455} y={47} s={15}>filtered</Txt>
      <Txt x={455} y={64} s={15}>stimulus</Txt>
      <Txt x={630} y={35} s={15} a="l">predicted</Txt>
      <Txt x={630} y={53} s={15} a="l">neuronal</Txt>
      <Txt x={630} y={72} s={15} a="l">response</Txt>
      <Txt x={181} y={104}>adaptation a</Txt>
      <Txt x={361} y={104}>linear filter L</Txt>
      <Txt x={545} y={104}>nonlinearity N</Txt>
      <Txt x={54.5} y={145} s={7}>500 ms</Txt>
      <Txt x={683} y={123} s={7} a="l">AV1</Txt>
      <Txt x={683} y={133} s={7} a="l">aLN</Txt>
      <Txt x={95} y={170}>stimulus s(t)</Txt>
      <Txt x={283} y={170}>adapted stimulus s’(t)</Txt>
      <Txt x={458} y={170}>filtered stimulus g(t)</Txt>
      <Txt x={650} y={170}>predicted neural response</Txt>

      {/* Panel B */}
      <Txt x={19} y={231} s={17} b>B</Txt>
      <Txt x={21} y={307} s={13.5} rot c={TITLE}>r2 aLN</Txt>
      <Txt x={135} y={410} s={13.5} c={TITLE}>r2 LN</Txt>

      {/* Panel C */}
      <Txt x={274} y={231} s={17} b>C</Txt>
      <Txt x={435} y={234} s={12.5} a="l" c={TITLE}>AV1</Txt>
      <Txt x={435} y={247.5} s={12.5} a="l" c={TITLE}>aLN</Txt>
      <Txt x={456} y={307} s={12.5} a="l" c={TITLE}>5 mV</Txt>
      <Txt x={471} y={337} s={12.5} c={TITLE}>1s</Txt>
      <Txt x={281} y={379} s={11} c={TITLE}>stimulus</Txt>

      {/* Panel D */}
      <Txt x={535} y={230} s={17} b>D</Txt>
      <Txt x={537} y={312} s={13.5} rot c={TITLE}>number of cells</Txt>
      <Txt x={634} y={409} s={13.5} c={TITLE}>r<sup style={{ fontSize: 8 }}>2</sup></Txt>

      {/* Panel E */}
      <Txt x={18.5} y={464} s={17} b>E</Txt>
      <Txt x={354} y={488} s={12.5} a="l" c={TITLE}>AV1</Txt>
      <Txt x={354} y={500} s={12.5} a="l" c={TITLE}>aLN</Txt>
      <Txt x={411} y={530} s={12.5} a="l" c={TITLE}>5 mV</Txt>
      <Txt x={409.5} y={583} s={12.5} c={TITLE}>1s</Txt>
      <Txt x={53.5} y={593} s={11} c={TITLE}>stimulus</Txt>

      {/* Panel F */}
      <Txt x={529} y={464} s={17} b>F</Txt>
      <Txt x={508.5} y={526} s={13.5} rot c={TITLE}>r2 aLN trained on</Txt>
      <Txt x={526.5} y={528} s={13.5} rot c={TITLE}>pulse trains</Txt>
      <Txt x={637} y={630} s={13.5} c={TITLE}>r2 aLN trained on song</Txt>

      {/* Panel G */}
      <Txt x={17} y={657} s={17} b>G</Txt>
      {G_TYPES.map((t, i) => <Txt key={t} x={G_LABEL_X[i]} y={687} s={13}>{t}</Txt>)}
      <Txt x={36} y={728} s={14}>200 ms</Txt>

      {/* Panel H */}
      <Txt x={19} y={847} s={17} b>H</Txt>
      <Txt x={20.5} y={928} s={13.5} rot c={TITLE}>filter width [ms]</Txt>
      {H_LEGEND.map((t, i) => <Txt key={t} x={338} y={859 + 14.9 * i} s={13} a="l">{t}</Txt>)}
      <Txt x={275} y={943} s={12.5} a="l">IPI</Txt>
      <Txt x={275} y={957} s={12.5} a="l">IQR</Txt>

      {/* Panel I */}
      <Txt x={403} y={847} s={17} b>I</Txt>
      <Txt x={402} y={925} s={14} rot c={TITLE}>number of cells</Txt>
      <Txt x={424} y={1023} s={14} a="l" c={TITLE}>ratio pos./neg.</Txt>
      <Txt x={424} y={1038} s={14} a="l" c={TITLE}>lobe integral</Txt>

      {/* Panel J */}
      <Txt x={544} y={847} s={17} b>J</Txt>
      <Txt x={542} y={928} s={13.5} rot c={TITLE}>response [mV]</Txt>
      <Txt x={648} y={1025} s={14} c={TITLE}>linear prediction [mV]</Txt>
    </div>
  );
}
